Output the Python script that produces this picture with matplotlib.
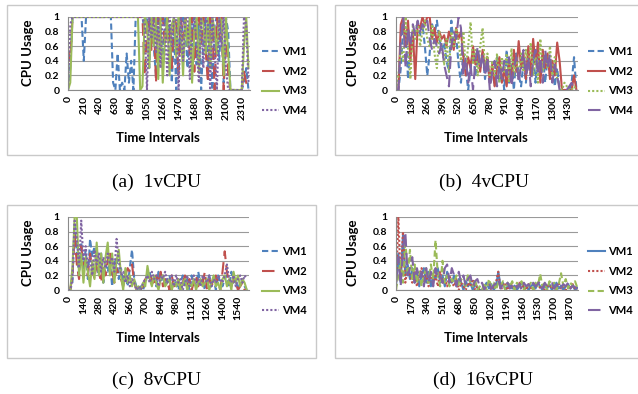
import matplotlib
matplotlib.use('Agg')
import matplotlib.pyplot as plt
import numpy as np
from matplotlib.patches import Rectangle

# ---------------- data ----------------
labels_vm = ["VM1", "VM2", "VM3", "VM4"]
captions = ["(a)  1vCPU", "(b)  4vCPU", "(c)  8vCPU", "(d)  16vCPU"]

# (a) 1vCPU, sampled every 30 intervals
a_step = 30
a_xmax = 2420
a_ticks = list(range(0, 2311, 210))
a_vm1 = [0, 0.3, 1, 1, 1, 1, 1, 0.4, 1, 1, 1, 1, 1, 1, 1, 1, 1, 1, 1, 1,
         0.1, 0, 0.5, 0, 0.1, 0, 0.5, 0.1, 0.4, 0, 1, 1, 1, 1, 0.8, 1, 0.3, 1, 0.6, 0.2,
         1, 0.9, 0.4, 1, 0.7, 0.9, 0.1, 0.8, 0, 1, 0.5, 1, 0.85, 0.3, 1, 0.6, 1, 0.35, 0.9, 0,
         0.7, 1, 0.2, 1, 0, 0.9, 1, 0.4, 1, 0.1, 1, 0.8, 0, 0, 0, 0, 0, 0, 0.1, 0.3, 0]
a_vm2 = [0.55, 0.4, 1, 1, 1, 1, 1, 1, 1, 1, 1, 1, 1, 1, 1, 1, 1, 1, 1, 1,
         1, 1, 1, 1, 1, 1, 1, 1, 1, 1, 1, 1, 1, 1, 0.2, 0.8, 1, 0.55, 1, 0.1,
         1, 0.9, 1, 0.6, 1, 0.8, 0.3, 1, 0.9, 0.2, 1, 0.7, 1, 0.85, 0.5, 1, 0.25, 0.9, 1, 0.6,
         1, 0.55, 0.1, 1, 0.85, 0, 1, 0.7, 1, 0, 0.9, 0.2, 0, 0, 0, 0, 0, 0, 0.25, 0.1, 0]
a_vm3 = [0, 0.1, 1, 1, 1, 1, 1, 1, 1, 1, 1, 1, 1, 1, 1, 1, 1, 1, 1, 1,
         1, 1, 1, 1, 1, 1, 1, 1, 1, 1, 1, 1, 0, 0.05, 1, 0.9, 0.3, 1, 0.6, 1,
         0.15, 1, 0.1, 0.7, 1, 0.2, 0.9, 1, 0.45, 1, 0.85, 0.2, 1, 0.6, 1, 0.1, 0.8, 1, 0.25, 1,
         0.9, 0.5, 1, 0.3, 1, 0.8, 0.5, 1, 0.95, 0.2, 1, 0.5, 0, 0, 0, 0, 0, 0, 0.6, 1, 0.3]
a_vm4 = [0, 0.9, 1, 1, 1, 1, 1, 1, 1, 1, 1, 1, 1, 1, 1, 1, 1, 1, 1, 1,
         1, 1, 1, 1, 1, 1, 1, 1, 1, 1, 1, 1, 1, 1, 0.9, 0, 1, 0.7, 1, 0.5,
         1, 0.3, 1, 0.85, 0.2, 1, 0.6, 1, 0.95, 0, 1, 0.4, 1, 1, 0.15, 0.9, 1, 0.6, 0.1, 1,
         0.3, 1, 0.9, 0, 1, 0.5, 0, 1, 0.6, 1, 0.3, 0, 0, 0, 0, 0, 0, 0, 1, 0.9, 0.1]

# (b) 4vCPU, sampled every 20 intervals
b_step = 20
b_xmax = 1513
b_ticks = list(range(0, 1431, 130))
b_vm1 = [0, 0, 0.3, 0.9, 0.8, 0.15, 0.7, 0.6, 0.85, 0.9, 0.75, 0.9, 0.6, 0.2, 0.5, 0.9, 0.75, 0.95, 0.7, 0.55,
         0.65, 0.4, 0.25, 0.95, 0.6, 0.75, 0.35, 0.1, 0.5, 0.3, 0.0, 0.3, 0.55, 0.2, 0.45, 0.3, 0.5, 0.15, 0.4, 0.1,
         0.3, 0.05, 0.45, 0.1, 0.3, 0.0, 0.55, 0.1, 0.35, 0.0, 0.5, 0.2, 0.05, 0.4, 0.1, 0.5, 0.2, 0.55, 0.1, 0.45,
         0.25, 0.5, 0.1, 0.45, 0.2, 0.35, 0.05, 0.3, 0.0, 0, 0, 0, 0, 0.1, 0.45, 0]
b_vm2 = [0, 0, 0.9, 1, 0.6, 0.95, 0.4, 0.8, 0.15, 0.9, 0.85, 1, 0.9, 1, 1, 0.7, 0.85, 0.65, 0.8, 0.7,
         0.75, 0.6, 0.8, 0.7, 0.55, 0.85, 0.7, 0.8, 0.45, 0.2, 0.45, 0.3, 0.6, 0.35, 0.5, 0.25, 0.55, 0.3, 0.45, 0.1,
         0.35, 0.05, 0.3, 0.45, 0.1, 0.3, 0.05, 0.4, 0.1, 0.55, 0.25, 0.67, 0.3, 0.5, 0.15, 0.6, 0.2, 0.7, 0.35, 0.65,
         0.1, 0.55, 0.3, 0.5, 0.15, 0.4, 0.2, 0.65, 0.4, 0.0, 0, 0, 0, 0, 0.2, 0]
b_vm3 = [0, 0.2, 0.6, 0.4, 1, 0.55, 0.15, 0.9, 0.7, 0.95, 0.6, 0.8, 0.95, 0.7, 0.6, 0.9, 0.5, 0.3, 0.8, 0.6,
         0.35, 0.7, 0.25, 0.8, 0.6, 0.85, 0.65, 0.4, 0.8, 0.3, 0.6, 0.93, 0.35, 0.55, 0.2, 0.6, 0.85, 0.3, 0.5, 0.15,
         0.4, 0.2, 0.5, 0.1, 0.45, 0.25, 0.5, 0.1, 0.57, 0.2, 0.45, 0.15, 0.5, 0.25, 0.55, 0.3, 0.65, 0.2, 0.45, 0.1,
         0.7, 0.25, 0.5, 0.3, 0.6, 0.2, 0.45, 0.15, 0.05, 0, 0.1, 0.05, 0, 0, 0.05, 0]
b_vm4 = [0, 0, 0.7, 1, 0.3, 0.85, 0.6, 0.9, 0.75, 0.95, 0.8, 0.9, 0.85, 0.95, 0.7, 0.55, 0.7, 0.6, 0.5, 0.65,
         0.35, 0.2, 0.05, 0.6, 0.8, 0.7, 1.0, 0.85, 0.2, 0.45, 0.1, 0.35, 0.0, 0.4, 0.6, 0.3, 0.5, 0.2, 0.45, 0.0,
         0.25, 0.4, 0.05, 0.35, 0.15, 0.4, 0.2, 0.45, 0.05, 0.3, 0.45, 0.1, 0.35, 0.55, 0.2, 0.45, 0.05, 0.4, 0.55, 0.2,
         0.45, 0.1, 0.55, 0.3, 0.5, 0.1, 0.35, 0.2, 0.0, 0, 0, 0, 0.05, 0.1, 0, 0]

# (c) 8vCPU, sampled every 20 intervals
c_step = 20
c_xmax = 1640
c_ticks = list(range(0, 1541, 140))
c_vm1 = [0, 0, 0.1, 0.9, 0.5, 0.2, 0.65, 0.3, 0.55, 0.15, 0.7, 0.45, 0.6, 0.3, 0.2, 0.5, 0.1, 0.35, 0.25, 0.4,
         0.05, 0.35, 0.45, 0.15, 0.3, 0.1, 0.2, 0.05, 0.3, 0.55, 0.15, 0.05, 0.0, 0.05, 0.0, 0.1, 0.2, 0.25, 0.1, 0.2,
         0.05, 0.25, 0.1, 0.2, 0.05, 0.15, 0.2, 0.0, 0.15, 0.1, 0.0, 0.1, 0.2, 0.05, 0.15, 0.0, 0.2, 0.1, 0.05, 0.25,
         0.1, 0.15, 0.0, 0.1, 0.2, 0.05, 0.15, 0.0, 0.2, 0.1, 0.05, 0.15, 0.2, 0.05, 0.25, 0.1, 0.15, 0.0, 0.1, 0.15,
         0.05, 0.0]
c_vm2 = [0, 0, 0.2, 0.75, 0.35, 0.15, 0.6, 0.35, 0.4, 0.2, 0.5, 0.3, 0.15, 0.4, 0.25, 0.1, 0.35, 0.2, 0.4, 0.55,
         0.25, 0.1, 0.3, 0.2, 0.15, 0.05, 0.2, 0.3, 0.25, 0.35, 0.1, 0.0, 0.05, 0.0, 0.05, 0.15, 0.1, 0.2, 0.15, 0.05,
         0.2, 0.1, 0.25, 0.05, 0.15, 0.1, 0.0, 0.2, 0.05, 0.1, 0.15, 0.0, 0.1, 0.2, 0.05, 0.15, 0.0, 0.1, 0.2, 0.05,
         0.15, 0.1, 0.25, 0.0, 0.15, 0.1, 0.05, 0.2, 0.1, 0.0, 0.25, 0.53, 0.25, 0.1, 0.05, 0.15, 0.1, 0.0, 0.05, 0.1,
         0.0, 0.0]
c_vm3 = [0, 0, 0.3, 1.0, 1.0, 0.2, 0.5, 0.1, 0.45, 0.25, 0.05, 0.4, 0.15, 0.65, 0.2, 0.5, 0.1, 0.45, 0.65, 0.2,
         0.5, 0.1, 0.4, 0.55, 0.2, 0.0, 0.3, 0.1, 0.2, 0.05, 0.15, 0.0, 0.05, 0.0, 0.1, 0.05, 0.33, 0.15, 0.05, 0.2,
         0.1, 0.0, 0.15, 0.2, 0.05, 0.1, 0.15, 0.0, 0.1, 0.05, 0.15, 0.0, 0.1, 0.15, 0.0, 0.1, 0.05, 0.15, 0.0, 0.1,
         0.15, 0.05, 0.1, 0.15, 0.0, 0.1, 0.2, 0.05, 0.1, 0.0, 0.15, 0.2, 0.05, 0.15, 0.0, 0.25, 0.1, 0.2, 0.05, 0.15,
         0.1, 0.0]
c_vm4 = [0, 0, 0.15, 0.95, 0.7, 0.3, 0.95, 0.4, 0.6, 0.3, 0.45, 0.2, 0.55, 0.35, 0.5, 0.25, 0.45, 0.3, 0.5, 0.35,
         0.45, 0.25, 0.7, 0.4, 0.2, 0.25, 0.1, 0.2, 0.05, 0.15, 0.1, 0.0, 0.05, 0.0, 0.1, 0.15, 0.2, 0.1, 0.25, 0.15,
         0.2, 0.05, 0.2, 0.15, 0.25, 0.1, 0.15, 0.2, 0.05, 0.2, 0.1, 0.15, 0.0, 0.1, 0.2, 0.05, 0.15, 0.2, 0.1, 0.15,
         0.05, 0.2, 0.15, 0.1, 0.2, 0.05, 0.15, 0.1, 0.2, 0.15, 0.1, 0.2, 0.35, 0.15, 0.1, 0.2, 0.05, 0.15, 0.2, 0.1,
         0.2, 0.15]

# (d) 16vCPU, sampled every 25 intervals
d_step = 25
d_xmax = 1957
d_ticks = list(range(0, 1871, 170))
d_vm1 = [0.05, 0.5, 0.1, 0.75, 0.2, 0.35, 0.15, 0.3, 0.1, 0.25, 0.05, 0.2, 0.3, 0.1, 0.25, 0.05, 0.2, 0.15, 0.3, 0.1,
         0.2, 0.05, 0.25, 0.15, 0.1, 0.2, 0.05, 0.15, 0.1, 0.0, 0.12, 0.05, 0.1, 0.0, 0.08, 0.03, 0.0, 0.0, 0.05, 0.1,
         0.02, 0.08, 0.0, 0.05, 0.25, 0.05, 0.1, 0.0, 0.05, 0.08, 0.02, 0.06, 0.0, 0.05, 0.1, 0.02, 0.06, 0.0, 0.05, 0.08,
         0.02, 0.1, 0.05, 0.0, 0.06, 0.02, 0.08, 0.0, 0.05, 0.1, 0.02, 0.06, 0.0, 0.05, 0.08, 0.02, 0.06, 0.0, 0.03]
d_vm2 = [0.0, 1.0, 0.15, 0.8, 0.1, 0.3, 0.2, 0.1, 0.25, 0.05, 0.2, 0.3, 0.1, 0.2, 0.05, 0.25, 0.1, 0.2, 0.05, 0.25,
         0.1, 0.15, 0.05, 0.2, 0.1, 0.05, 0.15, 0.0, 0.1, 0.05, 0.0, 0.1, 0.05, 0.15, 0.0, 0.05, 0.0, 0.0, 0.0, 0.05,
         0.1, 0.0, 0.05, 0.1, 0.25, 0.0, 0.05, 0.1, 0.0, 0.05, 0.08, 0.0, 0.05, 0.1, 0.02, 0.06, 0.0, 0.08, 0.03, 0.0,
         0.06, 0.1, 0.02, 0.05, 0.0, 0.08, 0.03, 0.06, 0.0, 0.05, 0.1, 0.02, 0.05, 0.0, 0.06, 0.03, 0.08, 0.02, 0.0]
d_vm3 = [0.0, 0.2, 0.4, 0.1, 0.7, 0.2, 0.55, 0.15, 0.35, 0.1, 0.25, 0.05, 0.2, 0.3, 0.1, 0.35, 0.15, 0.68, 0.2, 0.05,
         0.4, 0.1, 0.2, 0.05, 0.15, 0.1, 0.2, 0.05, 0.15, 0.1, 0.05, 0.22, 0.1, 0.05, 0.15, 0.0, 0.05, 0.0, 0.1, 0.0,
         0.15, 0.05, 0.1, 0.0, 0.1, 0.05, 0.12, 0.0, 0.1, 0.05, 0.12, 0.0, 0.1, 0.05, 0.12, 0.0, 0.08, 0.05, 0.1, 0.0,
         0.1, 0.05, 0.22, 0.05, 0.1, 0.0, 0.12, 0.05, 0.1, 0.0, 0.08, 0.23, 0.05, 0.15, 0.02, 0.1, 0.05, 0.12, 0.03]
d_vm4 = [0.1, 0.45, 0.05, 0.55, 0.8, 0.2, 0.3, 0.45, 0.1, 0.3, 0.15, 0.25, 0.05, 0.3, 0.1, 0.25, 0.05, 0.3, 0.15, 0.2,
         0.1, 0.3, 0.35, 0.1, 0.3, 0.2, 0.05, 0.25, 0.1, 0.2, 0.05, 0.15, 0.2, 0.05, 0.12, 0.15, 0.05, 0.1, 0.0, 0.08,
         0.1, 0.02, 0.06, 0.1, 0.15, 0.02, 0.08, 0.05, 0.1, 0.02, 0.06, 0.1, 0.03, 0.08, 0.0, 0.1, 0.05, 0.08, 0.02, 0.1,
         0.05, 0.08, 0.12, 0.02, 0.1, 0.05, 0.08, 0.1, 0.02, 0.06, 0.1, 0.03, 0.08, 0.05, 0.1, 0.02, 0.06, 0.04, 0.02]

# ---------------- style ----------------
W, H = 638, 394
BLUE, RED, GREEN, PURPLE = '#4F81BD', '#C0504D', '#9BBB59', '#8064A2'
DASH = (0, (3, 1.6))
LDASH = (0, (6, 3))
DOT = (0, (1, 1))
SOLID = '-'
FONT = 'Lato'

plt.rcParams['font.family'] = ['Lato', 'DejaVu Sans']

fig = plt.figure(figsize=(W / 100, H / 100), dpi=100)


def px_axes(x0, x1, y0, y1):
    return fig.add_axes([x0 / W, 1 - y1 / H, (x1 - x0) / W, (y1 - y0) / H])


panels = [
    dict(series=[a_vm1, a_vm2, a_vm3, a_vm4], step=a_step, xmax=a_xmax, ticks=a_ticks,
         styles=[DASH, LDASH, SOLID, DOT], box=(7, 317, 5, 155), ax=(68, 250, 17, 90),
         leg=(262, 81), xl=(158, 138), yl=(28, 53), cap=(156, 182)),
    dict(series=[b_vm1, b_vm2, b_vm3, b_vm4], step=b_step, xmax=b_xmax, ticks=b_ticks,
         styles=[DASH, SOLID, DOT, LDASH], box=(335, 645, 5, 155), ax=(396, 578, 17, 90),
         leg=(588, 81), xl=(486, 138), yl=(353, 53), cap=(484, 182)),
    dict(series=[c_vm1, c_vm2, c_vm3, c_vm4], step=c_step, xmax=c_xmax, ticks=c_ticks,
         styles=[DASH, LDASH, SOLID, DOT], box=(7, 316, 205, 358), ax=(68, 249, 217, 290),
         leg=(262, 281), xl=(158, 338), yl=(28, 253), cap=(156, 380)),
    dict(series=[d_vm1, d_vm2, d_vm3, d_vm4], step=d_step, xmax=d_xmax, ticks=d_ticks,
         styles=[SOLID, DOT, DASH, LDASH], box=(335, 645, 205, 358), ax=(396, 578, 217, 290),
         leg=(588, 281), xl=(486, 338), yl=(353, 253), cap=(483, 380)),
]
colors = [BLUE, RED, GREEN, PURPLE]

for p, cap in zip(panels, captions):
    bx0, bx1, by0, by1 = p['box']
    fig.patches.append(Rectangle((bx0 / W, 1 - by1 / H), (bx1 - bx0) / W, (by1 - by0) / H,
                                 transform=fig.transFigure, fill=False,
                                 edgecolor='#C9C9C9', linewidth=1.0))
    ax = px_axes(*p['ax'])
    handles = []
    for vals, col, ls, lab in zip(p['series'], colors, p['styles'], labels_vm):
        x = np.arange(len(vals)) * p['step']
        h, = ax.plot(x, vals, color=col, linestyle=ls, linewidth=1.5, label=lab)
        handles.append(h)
    ax.set_xlim(0, p['xmax'])
    ax.set_ylim(0, 1)
    ax.set_yticks([0, 0.2, 0.4, 0.6, 0.8, 1.0])
    ax.set_yticklabels(['0', '0.2', '0.4', '0.6', '0.8', '1'])
    ax.set_xticks(p['ticks'])
    ax.set_xticklabels([str(t) for t in p['ticks']], rotation=90)
    for lbl in ax.get_xticklabels() + ax.get_yticklabels():
        lbl.set_fontweight('bold')
        lbl.set_fontsize(7.5)
    ax.tick_params(axis='both', length=0)
    ax.tick_params(axis='x', pad=4)
    ax.tick_params(axis='y', pad=6)
    ax.grid(axis='y', color='#9A9A9A', linewidth=0.8)
    ax.set_axisbelow(True)
    for s in ['top', 'right']:
        ax.spines[s].set_visible(False)
    for s in ['left', 'bottom']:
        ax.spines[s].set_color('#8A8A8A')
        ax.spines[s].set_linewidth(0.8)
    lx, ly = p['leg']
    ax.legend(handles=handles, loc='center left', bbox_to_anchor=(lx / W, 1 - ly / H),
              bbox_transform=fig.transFigure, frameon=False, borderpad=0, borderaxespad=0,
              handlelength=1.55, handletextpad=0.25, labelspacing=0.8,
              prop=dict(family=FONT, weight='bold', size=8))
    xlx, xly = p['xl']
    fig.text(xlx / W, 1 - xly / H, 'Time Intervals', ha='center', va='center',
             fontsize=9.5, fontweight='bold')
    ylx, yly = p['yl']
    fig.text(ylx / W, 1 - yly / H, 'CPU Usage', ha='center', va='center', rotation=90,
             fontsize=9.5, fontweight='bold')
    cx, cy = p['cap']
    fig.text(cx / W, 1 - cy / H, cap, ha='center', va='center',
             family='Liberation Serif', fontsize=14)

fig.savefig('out.png', dpi=100, facecolor='white')
